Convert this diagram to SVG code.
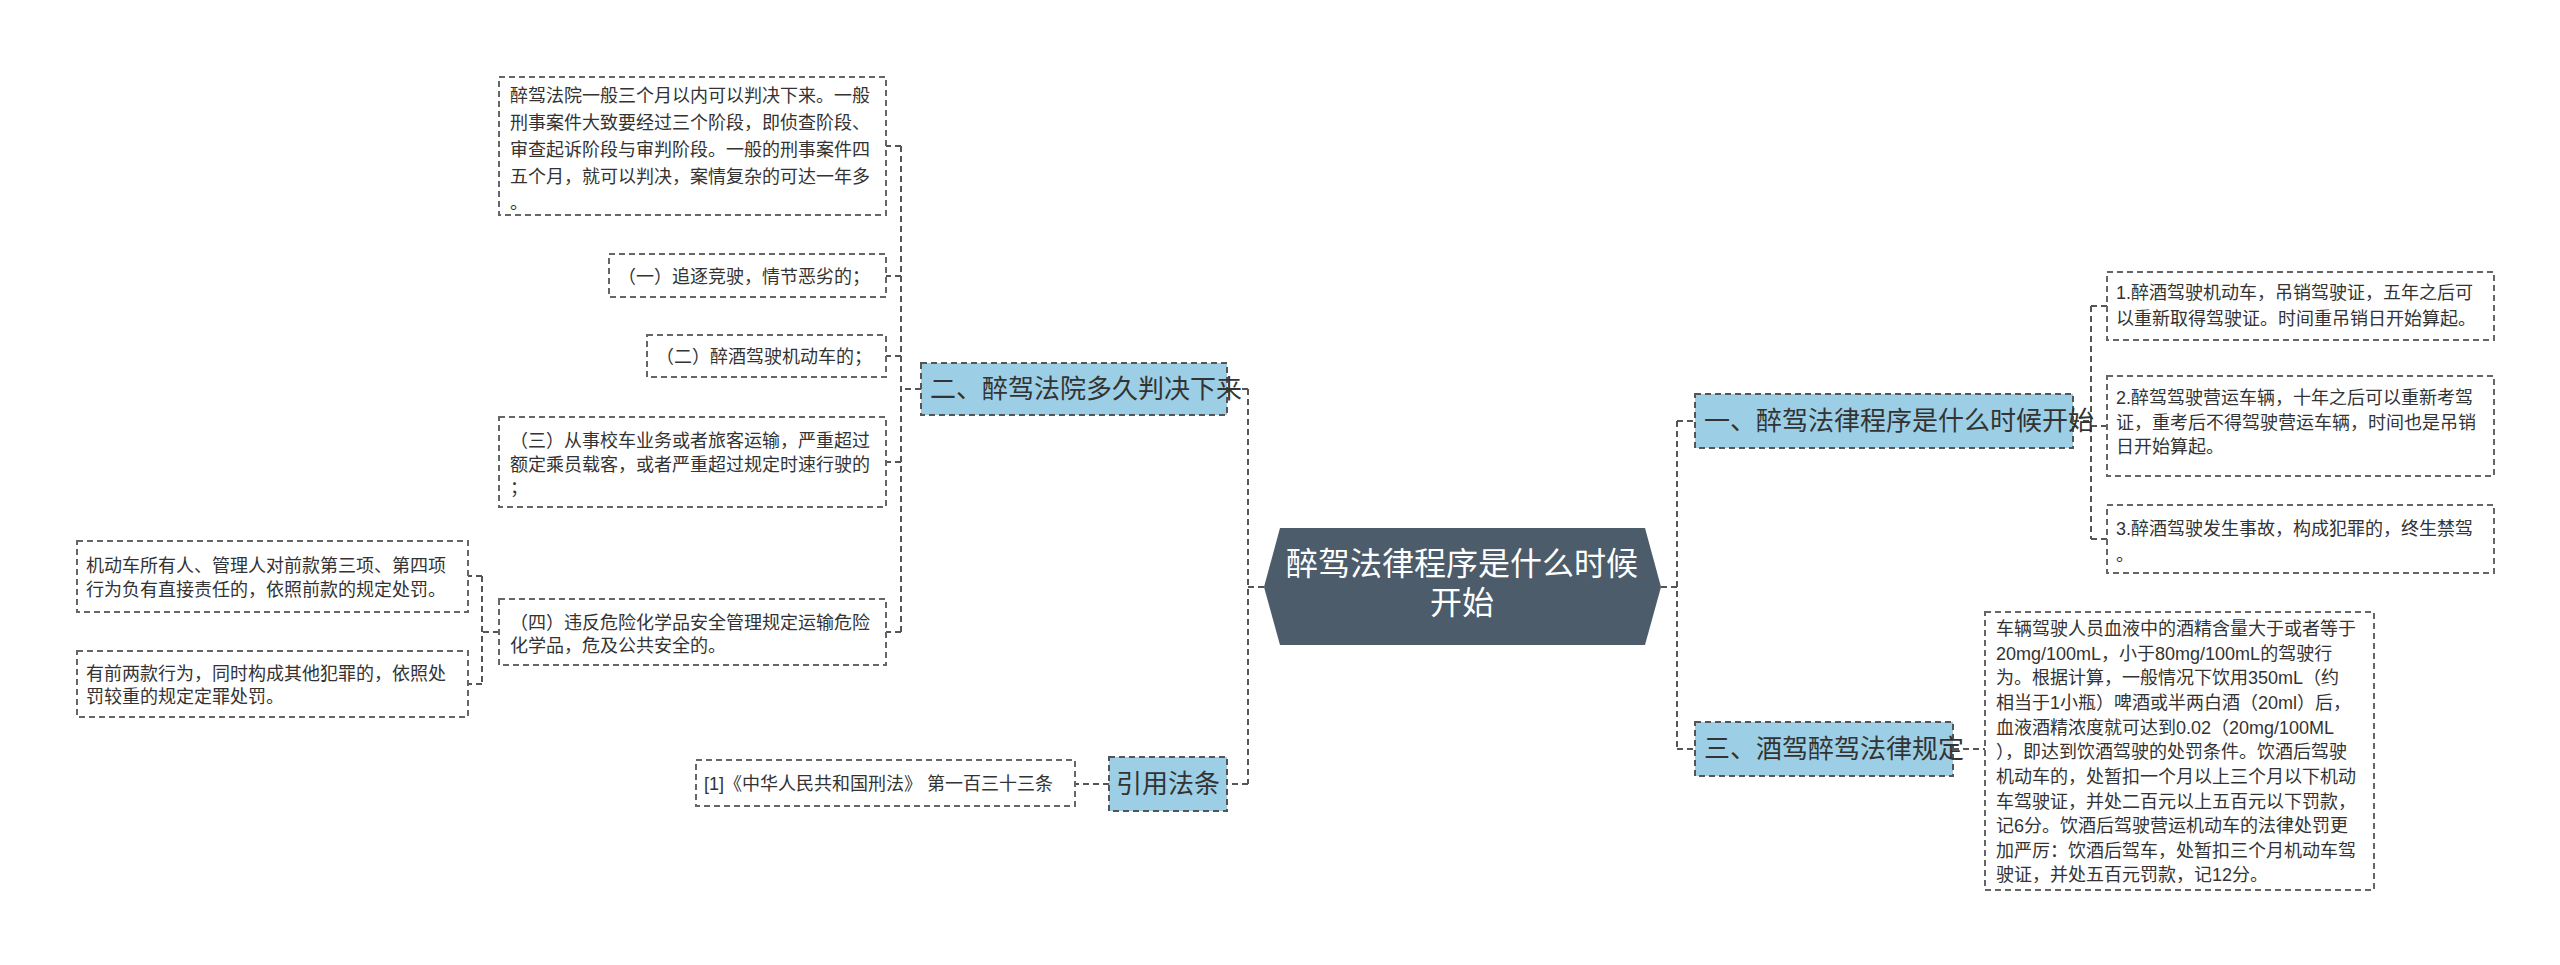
<svg xmlns="http://www.w3.org/2000/svg" width="2560" height="965" viewBox="0 0 2560 965">
<style>
.b{fill:#fff;stroke:#666;stroke-width:2;stroke-dasharray:6,4}
.m{fill:#9ccfe5;stroke:#555;stroke-width:2;stroke-dasharray:6,4}
.t{font-family:"Liberation Sans","Noto Sans CJK SC",sans-serif;font-size:18px;fill:#333}
.mt{font-family:"Liberation Sans","Noto Sans CJK SC",sans-serif;font-size:26px;fill:#333}
.l{fill:none;stroke:#555;stroke-width:2;stroke-dasharray:6,4}
</style>
<rect width="2560" height="965" fill="#fff"/>
<g id="connectors">
<path class="l" d="M1264 587H1248M1248 389V784M1248 389H1227M1248 784H1227"/>
<path class="l" d="M1661 587H1677M1677 421V749M1677 421H1695M1677 749H1695"/>
<path class="l" d="M921 389H901M901 146V632M901 146H886M901 276H886M901 356H886M901 462H886M901 632H886"/>
<path class="l" d="M499 632H482M482 576V684M482 576H468M482 684H468"/>
<path class="l" d="M1109 784H1075"/>
<path class="l" d="M2073 421H2091M2091 306V539M2091 306H2107M2091 426H2107M2091 539H2107"/>
<path class="l" d="M1953 749H1985"/>
</g>
<g id="center"><polygon points="1280,528 1645,528 1661,587 1645,645 1280,645 1264,587" fill="#4c5c6b"/>
<text x="1462" y="575" text-anchor="middle" font-family="Liberation Sans,Noto Sans CJK SC,sans-serif" font-size="32" fill="#fff">醉驾法律程序是什么时候</text>
<text x="1462" y="614" text-anchor="middle" font-family="Liberation Sans,Noto Sans CJK SC,sans-serif" font-size="32" fill="#fff">开始</text></g>
<g id="b2"><rect class="m" x="921" y="363" width="306" height="52"/><text class="mt" x="930" y="398">二、醉驾法院多久判决下来</text></g>
<g id="n1"><rect class="b" x="499" y="77" width="387" height="138"/>
<text class="t" x="510" y="102">醉驾法院一般三个月以内可以判决下来。一般</text>
<text class="t" x="510" y="129">刑事案件大致要经过三个阶段，即侦查阶段、</text>
<text class="t" x="510" y="156">审查起诉阶段与审判阶段。一般的刑事案件四</text>
<text class="t" x="510" y="183">五个月，就可以判决，案情复杂的可达一年多</text>
<text class="t" x="510" y="209">。</text></g>
<g id="n2"><rect class="b" x="609" y="254" width="277" height="43"/><text class="t" x="618" y="283">（一）追逐竞驶，情节恶劣的；</text></g>
<g id="n3"><rect class="b" x="647" y="335" width="239" height="42"/><text class="t" x="656" y="363">（二）醉酒驾驶机动车的；</text></g>
<g id="n4"><rect class="b" x="499" y="417" width="387" height="90"/>
<text class="t" x="510" y="447">（三）从事校车业务或者旅客运输，严重超过</text>
<text class="t" x="510" y="471">额定乘员载客，或者严重超过规定时速行驶的</text>
<text class="t" x="510" y="494">；</text></g>
<g id="n5"><rect class="b" x="499" y="599" width="387" height="66"/>
<text class="t" x="510" y="629">（四）违反危险化学品安全管理规定运输危险</text>
<text class="t" x="510" y="652">化学品，危及公共安全的。</text></g>
<g id="n6"><rect class="b" x="77" y="541" width="391" height="71"/>
<text class="t" x="86" y="572">机动车所有人、管理人对前款第三项、第四项</text>
<text class="t" x="86" y="596">行为负有直接责任的，依照前款的规定处罚。</text></g>
<g id="n7"><rect class="b" x="77" y="651" width="391" height="66"/>
<text class="t" x="86" y="680">有前两款行为，同时构成其他犯罪的，依照处</text>
<text class="t" x="86" y="703">罚较重的规定定罪处罚。</text></g>
<g id="b4"><rect class="m" x="1109" y="757" width="118" height="54"/><text class="mt" x="1168" y="793" text-anchor="middle">引用法条</text></g>
<g id="n8"><rect class="b" x="696" y="760" width="379" height="46"/><text class="t" x="704" y="790">[1]《中华人民共和国刑法》 第一百三十三条</text></g>
<g id="b1"><rect class="m" x="1695" y="394" width="378" height="54"/><text class="mt" x="1704" y="430">一、醉驾法律程序是什么时候开始</text></g>
<g id="n9"><rect class="b" x="2107" y="272" width="387" height="68"/>
<text class="t" x="2116" y="299">1.醉酒驾驶机动车，吊销驾驶证，五年之后可</text>
<text class="t" x="2116" y="325">以重新取得驾驶证。时间重吊销日开始算起。</text></g>
<g id="n10"><rect class="b" x="2107" y="376" width="387" height="100"/>
<text class="t" x="2116" y="404">2.醉驾驾驶营运车辆，十年之后可以重新考驾</text>
<text class="t" x="2116" y="429">证，重考后不得驾驶营运车辆，时间也是吊销</text>
<text class="t" x="2116" y="453">日开始算起。</text></g>
<g id="n11"><rect class="b" x="2107" y="505" width="387" height="68"/>
<text class="t" x="2116" y="535">3.醉酒驾驶发生事故，构成犯罪的，终生禁驾</text>
<text class="t" x="2116" y="561">。</text></g>
<g id="b3"><rect class="m" x="1695" y="722" width="258" height="54"/><text class="mt" x="1704" y="758">三、酒驾醉驾法律规定</text></g>
<g id="n12"><rect class="b" x="1985" y="612" width="389" height="278"/>
<text class="t" x="1996" y="635">车辆驾驶人员血液中的酒精含量大于或者等于</text>
<text class="t" x="1996" y="660">20mg/100mL，小于80mg/100mL的驾驶行</text>
<text class="t" x="1996" y="684">为。根据计算，一般情况下饮用350mL（约</text>
<text class="t" x="1996" y="709">相当于1小瓶）啤酒或半两白酒（20ml）后，</text>
<text class="t" x="1996" y="734">血液酒精浓度就可达到0.02（20mg/100ML</text>
<text class="t" x="1996" y="758">），即达到饮酒驾驶的处罚条件。饮酒后驾驶</text>
<text class="t" x="1996" y="783">机动车的，处暂扣一个月以上三个月以下机动</text>
<text class="t" x="1996" y="808">车驾驶证，并处二百元以上五百元以下罚款，</text>
<text class="t" x="1996" y="832">记6分。饮酒后驾驶营运机动车的法律处罚更</text>
<text class="t" x="1996" y="857">加严厉：饮酒后驾车，处暂扣三个月机动车驾</text>
<text class="t" x="1996" y="881">驶证，并处五百元罚款，记12分。</text></g>
</svg>
